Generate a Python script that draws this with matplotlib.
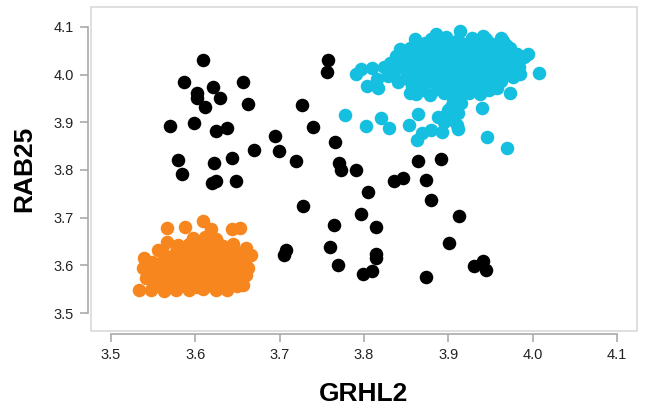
import matplotlib
matplotlib.use('Agg')
import matplotlib.pyplot as plt
from matplotlib.patches import Rectangle

plt.rcParams['font.family'] = ['Liberation Sans', 'DejaVu Sans']

# ── Data: GRHL2 vs RAB25 expression per cell group ───────────────────────────
# epithelial cluster (orange)
orange_x = [3.533, 3.539, 3.567, 3.588, 3.609, 3.618, 3.643, 3.653, 3.567, 3.556,
            3.666, 3.656, 3.660, 3.538, 3.541, 3.663, 3.660,
            3.547, 3.563, 3.577, 3.592, 3.609, 3.624, 3.638,
            3.552, 3.566, 3.579, 3.590, 3.602, 3.613, 3.626, 3.640, 3.650,
            3.545, 3.558, 3.571, 3.584, 3.596, 3.607, 3.619, 3.631, 3.644, 3.655,
            3.543, 3.556, 3.568, 3.580, 3.593, 3.604, 3.616, 3.628, 3.641, 3.653,
            3.549, 3.561, 3.574, 3.587, 3.598, 3.610, 3.622, 3.635, 3.648, 3.659,
            3.562, 3.577, 3.590, 3.602, 3.614, 3.627, 3.639, 3.651,
            3.579, 3.593, 3.606, 3.619, 3.633, 3.645,
            3.597, 3.611, 3.624,
            3.559, 3.572, 3.585, 3.597, 3.608, 3.620, 3.633, 3.646,
            3.551, 3.563, 3.575, 3.588, 3.600, 3.611, 3.623, 3.636, 3.649,
            3.568, 3.581, 3.594, 3.606, 3.618, 3.631, 3.644,
            3.586, 3.600, 3.613, 3.626, 3.638]
orange_y = [3.548, 3.615, 3.678, 3.680, 3.694, 3.676, 3.676, 3.678, 3.648, 3.632,
            3.621, 3.559, 3.579, 3.594, 3.573, 3.594, 3.636,
            3.548, 3.547, 3.549, 3.548, 3.550, 3.548, 3.549,
            3.556, 3.553, 3.558, 3.555, 3.554, 3.557, 3.555, 3.558, 3.556,
            3.573, 3.570, 3.574, 3.571, 3.575, 3.572, 3.570, 3.574, 3.571, 3.573,
            3.590, 3.592, 3.588, 3.591, 3.589, 3.593, 3.590, 3.588, 3.592, 3.590,
            3.608, 3.606, 3.610, 3.607, 3.609, 3.605, 3.609, 3.607, 3.610, 3.606,
            3.625, 3.627, 3.623, 3.626, 3.624, 3.627, 3.624, 3.626,
            3.642, 3.644, 3.640, 3.643, 3.641, 3.644,
            3.658, 3.660, 3.656,
            3.563, 3.565, 3.562, 3.566, 3.563, 3.564, 3.566, 3.563,
            3.581, 3.583, 3.580, 3.582, 3.581, 3.584, 3.580, 3.582, 3.581,
            3.616, 3.618, 3.615, 3.617, 3.616, 3.618, 3.615,
            3.634, 3.651, 3.649, 3.650, 3.633]

# high-expression cluster (cyan)
cyan_x = [3.796, 3.810, 3.790, 3.804, 3.817, 3.829, 3.831, 3.843, 3.861, 3.885,
          3.914, 3.941, 3.965, 3.995, 4.007, 3.985, 3.973, 3.958, 3.924, 3.940,
          3.946, 3.970, 3.912, 3.778, 3.802, 3.820, 3.830, 3.853, 3.864, 3.863,
          3.869, 3.879, 3.845, 3.852, 3.855,
          3.880, 3.897, 3.912, 3.928, 3.945, 3.962,
          3.855, 3.870, 3.884, 3.899, 3.914, 3.929, 3.944, 3.958, 3.973,
          3.848, 3.861, 3.875, 3.889, 3.904, 3.918, 3.932, 3.947, 3.961, 3.976, 3.990,
          3.845, 3.858, 3.872, 3.886, 3.900, 3.915, 3.929, 3.943, 3.957, 3.971, 3.984,
          3.850, 3.864, 3.878, 3.892, 3.906, 3.920, 3.934, 3.948, 3.963, 3.977,
          3.857, 3.871, 3.886, 3.900, 3.914, 3.928, 3.942, 3.955,
          3.862, 3.878, 3.895, 3.910, 3.938,
          3.905, 3.915, 3.900, 3.912, 3.905, 3.895, 3.910, 3.888,
          3.872, 3.889, 3.905, 3.920, 3.936, 3.952, 3.968,
          3.862, 3.877, 3.892, 3.907, 3.922, 3.937, 3.952, 3.967, 3.982,
          3.853, 3.866, 3.880, 3.896, 3.911, 3.925, 3.940, 3.954, 3.968, 3.983,
          3.855, 3.868, 3.882, 3.897, 3.911, 3.926, 3.940, 3.955, 3.970,
          3.864, 3.878, 3.893, 3.907, 3.921, 3.935, 3.949, 3.962,
          3.870, 3.887, 3.902, 3.918, 3.930, 3.948,
          3.836, 3.824, 3.838, 3.840, 3.815, 3.903, 3.897, 3.908, 3.893]
cyan_y = [4.012, 4.014, 4.002, 3.977, 3.972, 3.998, 4.025, 4.054, 4.075, 4.085,
          4.092, 4.081, 4.071, 4.044, 4.004, 4.002, 3.962, 3.972, 3.962, 3.931,
          3.870, 3.847, 3.885, 3.916, 3.893, 3.908, 3.889, 3.895, 3.918, 3.862,
          3.878, 3.883, 4.025, 3.990, 3.962,
          4.075, 4.078, 4.073, 4.076, 4.074, 4.077,
          4.055, 4.057, 4.053, 4.056, 4.054, 4.058, 4.055, 4.053, 4.056,
          4.035, 4.037, 4.033, 4.036, 4.034, 4.037, 4.035, 4.033, 4.036, 4.034, 4.037,
          4.015, 4.017, 4.013, 4.016, 4.014, 4.017, 4.015, 4.013, 4.016, 4.014, 4.017,
          3.995, 3.997, 3.993, 3.996, 3.994, 3.997, 3.995, 3.993, 3.996, 3.994,
          3.977, 3.979, 3.975, 3.978, 3.976, 3.979, 3.977, 3.975,
          3.960, 3.958, 3.961, 3.959, 3.960,
          3.945, 3.940, 3.925, 3.920, 3.905, 3.900, 3.895, 3.912,
          4.066, 4.064, 4.067, 4.065, 4.066, 4.064, 4.063,
          4.046, 4.044, 4.047, 4.045, 4.046, 4.044, 4.047, 4.045, 4.044,
          4.026, 4.024, 4.027, 4.025, 4.026, 4.024, 4.027, 4.025, 4.026, 4.024,
          4.005, 4.007, 4.004, 4.006, 4.005, 4.007, 4.004, 4.006, 4.005,
          3.986, 3.988, 3.985, 3.987, 3.986, 3.988, 3.985, 3.987,
          3.968, 3.969, 3.967, 3.968, 3.969, 3.967,
          4.008, 4.016, 4.040, 3.985, 3.990, 3.932, 3.915, 3.950, 3.880]

# remaining cells (black)
black_x = [3.609, 3.586, 3.656, 3.602, 3.621, 3.602, 3.629, 3.612, 3.662, 3.727,
           3.740, 3.570, 3.599, 3.625, 3.638, 3.695, 3.669, 3.699, 3.719, 3.580,
           3.584, 3.622, 3.644, 3.620, 3.625, 3.648, 3.757, 3.756, 3.766, 3.770,
           3.773, 3.791, 3.835, 3.846, 3.864, 3.891, 3.874, 3.805, 3.880, 3.728,
           3.796, 3.765, 3.814, 3.913, 3.707, 3.705, 3.760, 3.769, 3.814, 3.814,
           3.799, 3.809, 3.901, 3.874, 3.930, 3.941, 3.945]
black_y = [4.031, 3.985, 3.985, 3.962, 3.973, 3.952, 3.952, 3.933, 3.939, 3.937,
           3.891, 3.893, 3.899, 3.881, 3.889, 3.872, 3.841, 3.839, 3.818, 3.820,
           3.791, 3.814, 3.826, 3.772, 3.776, 3.776, 4.031, 4.006, 3.858, 3.814,
           3.801, 3.801, 3.776, 3.784, 3.818, 3.824, 3.780, 3.753, 3.736, 3.724,
           3.707, 3.684, 3.680, 3.703, 3.632, 3.621, 3.638, 3.600, 3.623, 3.615,
           3.582, 3.588, 3.646, 3.575, 3.598, 3.609, 3.590]

ticks = [3.5, 3.6, 3.7, 3.8, 3.9, 4.0, 4.1]
tick_labels = ['3.5', '3.6', '3.7', '3.8', '3.9', '4.0', '4.1']

# ── Figure ────────────────────────────────────────────────────────────────────
W, H = 649, 413
fig = plt.figure(figsize=(W / 100, H / 100), dpi=100)
ax = fig.add_axes([91 / W, (H - 331) / H, (637 - 91) / W, (331 - 7) / H])

dot = dict(s=95, linewidths=0, zorder=3)
ax.scatter(orange_x, orange_y, color='#f7861f', **dot)
ax.scatter(cyan_x, cyan_y, color='#14bfdf', **dot)
ax.scatter(black_x, black_y, color='#000000', **dot)

ax.set_xlim(3.4763, 4.1237)
ax.set_ylim(3.4623, 4.1418)

# light frame around the plotting area
ax.add_patch(Rectangle((0, 0), 1, 1, transform=ax.transAxes, fill=False,
                       edgecolor='#dcdcdc', lw=1.3, clip_on=False, zorder=1))

for side in ('top', 'right'):
    ax.spines[side].set_visible(False)
for side in ('left', 'bottom'):
    ax.spines[side].set_position(('outward', 2.5))
    ax.spines[side].set_color('#aaaaaa')
    ax.spines[side].set_linewidth(1.2)
ax.spines['left'].set_bounds(3.5, 4.1)
ax.spines['bottom'].set_bounds(3.5, 4.1)

ax.set_xticks(ticks)
ax.set_xticklabels(tick_labels)
ax.set_yticks(ticks)
ax.set_yticklabels(tick_labels)
ax.tick_params(direction='out', length=6, width=1.2, color='#aaaaaa',
               labelsize=10.5, labelcolor='#222222', pad=4)

ax.set_xlabel('GRHL2', fontsize=19, fontweight='bold', labelpad=14)
ax.set_ylabel('RAB25', fontsize=19, fontweight='bold', labelpad=12)

fig.savefig('out.png', dpi=100)
